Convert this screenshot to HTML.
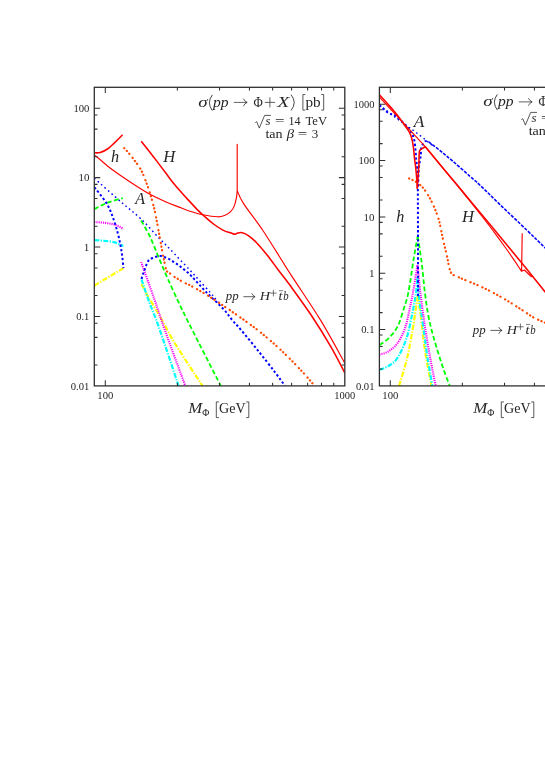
<!DOCTYPE html>
<html><head><meta charset="utf-8"><title>Higgs cross sections</title>
<style>
html,body{margin:0;padding:0;background:#fff;}
body{width:545px;height:770px;overflow:hidden;font-family:"Liberation Serif",serif;}
svg{display:block;will-change:transform;}
svg text{font-family:"Liberation Serif",serif;fill:#262626;}
</style></head><body>
<svg width="545" height="770" viewBox="0 0 545 770">
<rect width="545" height="770" fill="#fff"/>
<defs>
<clipPath id="cl"><rect x="94.3" y="87.3" width="250.5" height="298.6"/></clipPath>
<clipPath id="cr"><rect x="379.4" y="87.3" width="170" height="298.6"/></clipPath>
</defs>
<g clip-path="url(#cl)" stroke-linecap="butt" stroke-linejoin="round">
<path d="M94.30,285.60 L123.40,268.20" fill="none" stroke="#ffff00" stroke-width="2.2" stroke-dasharray="5.3 1.5 1.3 1.5" />
<path d="M141.50,284.10 C142.02,285.08 143.18,287.35 144.60,290.00 C146.02,292.65 147.93,296.50 150.00,300.00 C152.07,303.50 154.83,307.33 157.00,311.00 C159.17,314.67 159.85,316.33 163.00,322.00 C166.15,327.67 169.32,334.35 175.90,345.00 C182.48,355.65 198.07,379.08 202.50,385.90" fill="none" stroke="#ffff00" stroke-width="2.2" stroke-dasharray="5.3 1.5 1.3 1.5" />
<path d="M94.30,240.10 C95.98,240.22 100.98,240.42 104.40,240.80 C107.82,241.18 111.63,241.53 114.80,242.40 C117.97,243.27 121.97,245.40 123.40,246.00" fill="none" stroke="#00ffff" stroke-width="2.2" stroke-dasharray="5 1.4 1.2 1.4" />
<path d="M141.50,279.50 C142.87,283.48 146.80,295.45 149.70,303.40 C152.60,311.35 154.08,313.45 158.90,327.20 C163.72,340.95 175.32,376.12 178.60,385.90" fill="none" stroke="#00ffff" stroke-width="2.2" stroke-dasharray="5 1.4 1.2 1.4" />
<path d="M94.30,222.00 C95.98,222.13 100.98,222.35 104.40,222.80 C107.82,223.25 111.63,223.72 114.80,224.70 C117.97,225.68 121.97,228.03 123.40,228.70" fill="none" stroke="#ff00ff" stroke-width="2.1" stroke-dasharray="1.15 1.0" />
<path d="M141.10,262.00 C143.25,268.03 150.02,286.78 154.00,298.20 C157.98,309.62 159.78,315.88 165.00,330.50 C170.22,345.12 181.92,376.67 185.30,385.90" fill="none" stroke="#ff00ff" stroke-width="2.1" stroke-dasharray="1.15 1.0" />
<path d="M94.30,209.10 C96.50,208.03 102.75,204.53 107.50,202.70 C112.25,200.87 120.25,198.87 122.80,198.10" fill="none" stroke="#00ff00" stroke-width="1.8" stroke-dasharray="4.7 2.5" />
<path d="M141.10,220.50 C142.53,223.08 146.73,229.75 149.70,236.00 C152.67,242.25 155.83,250.75 158.90,258.00 C161.97,265.25 164.58,271.63 168.10,279.50 C171.62,287.37 176.25,297.33 180.00,305.20 C183.75,313.07 183.80,313.25 190.60,326.70 C197.40,340.15 215.77,376.03 220.80,385.90" fill="none" stroke="#00ff00" stroke-width="1.8" stroke-dasharray="4.7 2.5" />
<path d="M94.30,187.40 C94.97,188.17 96.10,189.08 98.30,192.00 C100.50,194.92 105.05,200.62 107.50,204.90 C109.95,209.18 111.32,213.12 113.00,217.70 C114.68,222.28 116.37,227.85 117.60,232.40 C118.83,236.95 119.63,241.07 120.40,245.00 C121.17,248.93 121.70,252.13 122.20,256.00 C122.70,259.87 123.20,266.17 123.40,268.20" fill="none" stroke="#0000ff" stroke-width="2.0" stroke-dasharray="2.3 2.25" />
<path d="M141.60,279.00 C141.73,278.33 142.07,276.07 142.40,275.00 C142.73,273.93 143.18,273.63 143.60,272.60 C144.02,271.57 144.40,270.17 144.90,268.80 C145.40,267.43 145.95,265.82 146.60,264.40 C147.25,262.98 147.80,261.37 148.80,260.30 C149.80,259.23 151.23,258.65 152.60,258.00 C153.97,257.35 155.58,256.72 157.00,256.40 C158.42,256.08 159.72,255.93 161.10,256.10 C162.48,256.27 163.87,256.85 165.30,257.40 C166.73,257.95 168.33,258.67 169.70,259.40 C171.07,260.13 172.22,260.97 173.50,261.80 C174.78,262.63 176.20,263.55 177.40,264.40 C178.60,265.25 179.52,265.98 180.70,266.90 C181.88,267.82 183.32,268.95 184.50,269.90 C185.68,270.85 186.68,271.60 187.80,272.60 C188.92,273.60 190.08,274.77 191.20,275.90 C192.32,277.03 191.92,276.62 194.50,279.40 C197.08,282.18 201.92,287.70 206.70,292.60 C211.48,297.50 218.92,304.18 223.20,308.80 C227.48,313.42 229.52,316.88 232.40,320.30 C235.28,323.72 236.20,324.22 240.50,329.30 C244.80,334.38 252.45,343.63 258.20,350.80 C263.95,357.97 270.53,366.45 275.00,372.30 C279.47,378.15 283.33,383.63 285.00,385.90" fill="none" stroke="#0000ff" stroke-width="2.0" stroke-dasharray="2.3 2.25" />
<path d="M94.30,178.30 C98.95,182.42 114.48,196.28 122.20,203.00 C129.92,209.72 134.48,212.78 140.60,218.60 C146.72,224.42 154.00,232.80 158.90,237.90 C163.80,243.00 164.92,243.92 170.00,249.20 C175.08,254.48 184.52,264.38 189.40,269.60 C194.28,274.82 195.82,276.67 199.30,280.50 C202.78,284.33 207.68,289.65 210.30,292.60 C212.92,295.55 213.63,296.53 215.00,298.20 C216.37,299.87 217.92,301.87 218.50,302.60" fill="none" stroke="#0000ff" stroke-width="1.45" stroke-dasharray="1.6 3.0" />
<path d="M124.20,148.10 C125.07,149.07 127.57,151.70 129.40,153.90 C131.23,156.10 133.25,158.60 135.20,161.30 C137.15,164.00 139.38,166.92 141.10,170.10 C142.82,173.28 144.03,176.62 145.50,180.40 C146.97,184.18 148.68,189.02 149.90,192.80 C151.12,196.58 151.95,199.92 152.80,203.10 C153.65,206.28 153.98,207.02 155.00,211.90 C156.02,216.78 157.78,226.33 158.90,232.40 C160.02,238.47 160.88,243.88 161.70,248.30 C162.52,252.72 163.33,256.53 163.80,258.90 C164.27,261.27 164.20,261.03 164.50,262.50 C164.80,263.97 165.20,266.23 165.60,267.70 C166.00,269.17 166.22,270.38 166.90,271.30 C167.58,272.22 168.55,272.33 169.70,273.20 C170.85,274.07 172.57,275.65 173.80,276.50 C175.03,277.35 176.05,277.67 177.10,278.30 C178.15,278.93 178.77,279.50 180.10,280.30 C181.43,281.10 183.72,282.40 185.10,283.10 C186.48,283.80 187.30,283.98 188.40,284.50 C189.50,285.02 188.65,284.48 191.70,286.20 C194.75,287.92 201.15,291.37 206.70,294.80 C212.25,298.23 218.88,302.67 225.00,306.80 C231.12,310.93 237.53,315.40 243.40,319.60 C249.27,323.80 254.03,327.00 260.20,332.00 C266.37,337.00 273.68,343.30 280.40,349.60 C287.12,355.90 294.78,363.75 300.50,369.80 C306.22,375.85 312.33,383.22 314.70,385.90" fill="none" stroke="#ff4800" stroke-width="2.15" stroke-dasharray="0.3 3.4 0.3 3.4 0.3 5.2" stroke-linecap="round" />
<path d="M94.30,155.00 C95.25,155.75 97.58,157.50 100.00,159.50 C102.42,161.50 105.13,164.17 108.80,167.00 C112.47,169.83 117.35,173.30 122.00,176.50 C126.65,179.70 132.05,183.23 136.70,186.20 C141.35,189.17 145.00,191.67 149.90,194.30 C154.80,196.93 161.08,199.82 166.10,202.00 C171.12,204.18 176.30,205.95 180.00,207.40 C183.70,208.85 184.47,209.47 188.30,210.70 C192.13,211.93 198.10,213.78 203.00,214.80 C207.90,215.82 214.03,216.72 217.70,216.80 C221.37,216.88 222.85,216.15 225.00,215.30 C227.15,214.45 229.07,213.23 230.60,211.70 C232.13,210.17 233.23,208.40 234.20,206.10 C235.17,203.80 235.90,200.48 236.40,197.90 C236.90,195.32 237.07,191.82 237.20,190.60 L237.2,144.3 L237.2,190.6  C238.23,192.73 239.03,196.63 243.40,203.40 C247.77,210.17 255.63,219.53 263.40,231.20 C271.17,242.87 280.45,258.53 290.00,273.40 C299.55,288.27 311.57,305.45 320.70,320.40 C329.83,335.35 340.78,355.98 344.80,363.10" fill="none" stroke="#ff0000" stroke-width="1.15" />
<path d="M94.30,152.80 C95.28,152.75 98.00,153.13 100.20,152.50 C102.40,151.87 105.05,150.68 107.50,149.00 C109.95,147.32 112.38,144.78 114.90,142.40 C117.42,140.02 121.32,135.98 122.60,134.70" fill="none" stroke="#ff0000" stroke-width="1.55" />
<path d="M141.20,141.20 C142.62,142.98 147.07,148.53 149.70,151.90 C152.33,155.27 154.45,158.05 157.00,161.40 C159.55,164.75 162.45,168.60 165.00,172.00 C167.55,175.40 169.85,178.70 172.30,181.80 C174.75,184.90 177.25,187.80 179.70,190.60 C182.15,193.40 184.07,195.43 187.00,198.60 C189.93,201.77 194.53,206.77 197.30,209.60 C200.07,212.43 200.90,213.20 203.60,215.60 C206.30,218.00 210.20,221.53 213.50,224.00 C216.80,226.47 220.58,228.95 223.40,230.40 C226.22,231.85 228.47,232.05 230.40,232.70 C232.33,233.35 233.78,234.25 235.00,234.30 C236.22,234.35 236.48,233.27 237.70,233.00 C238.92,232.73 240.47,232.23 242.30,232.70 C244.13,233.17 246.40,234.22 248.70,235.80 C251.00,237.38 253.03,239.00 256.10,242.20 C259.17,245.40 263.43,250.42 267.10,255.00 C270.77,259.58 274.28,264.65 278.10,269.70 C281.92,274.75 284.58,277.87 290.00,285.30 C295.42,292.73 303.80,304.08 310.60,314.30 C317.40,324.52 325.10,336.85 330.80,346.60 C336.50,356.35 342.47,368.43 344.80,372.80" fill="none" stroke="#ff0000" stroke-width="1.55" />
</g>
<g clip-path="url(#cr)" stroke-linecap="butt" stroke-linejoin="round">
<path d="M399.00,385.90 C400.28,381.53 404.50,368.65 406.70,359.70 C408.90,350.75 410.67,340.77 412.20,332.20 C413.73,323.63 414.97,314.32 415.90,308.30 C416.83,302.28 417.48,298.13 417.80,296.10" fill="none" stroke="#ffff00" stroke-width="2.2" stroke-dasharray="5.3 1.5 1.3 1.5" />
<path d="M417.80,296.10 C418.25,299.07 419.30,304.82 420.50,313.90 C421.70,322.98 423.17,338.60 425.00,350.60 C426.83,362.60 430.42,380.02 431.50,385.90" fill="none" stroke="#ffff00" stroke-width="2.2" stroke-dasharray="5.3 1.5 1.3 1.5" />
<path d="M379.40,369.80 C380.88,369.18 385.28,368.08 388.30,366.10 C391.32,364.12 394.43,362.63 397.50,357.90 C400.57,353.17 404.25,345.03 406.70,337.70 C409.15,330.37 410.67,321.23 412.20,313.90 C413.73,306.57 415.02,299.87 415.90,293.70 C416.78,287.53 417.23,279.70 417.50,276.90" fill="none" stroke="#00ffff" stroke-width="2.2" stroke-dasharray="5 1.4 1.2 1.4" />
<path d="M417.50,276.90 C417.83,280.92 418.55,292.70 419.50,301.00 C420.45,309.30 421.82,316.92 423.20,326.70 C424.58,336.48 426.27,349.83 427.80,359.70 C429.33,369.57 431.63,381.53 432.40,385.90" fill="none" stroke="#00ffff" stroke-width="2.2" stroke-dasharray="5 1.4 1.2 1.4" />
<path d="M379.40,354.60 C380.88,354.08 385.28,353.40 388.30,351.50 C391.32,349.60 394.73,347.03 397.50,343.20 C400.27,339.37 402.92,334.00 404.90,328.50 C406.88,323.00 408.03,316.32 409.40,310.20 C410.77,304.08 411.75,299.33 413.10,291.80 C414.45,284.27 416.77,269.47 417.50,265.00" fill="none" stroke="#ff00ff" stroke-width="2.1" stroke-dasharray="1.15 1.0" />
<path d="M417.50,265.00 C418.00,269.78 419.25,283.42 420.50,293.70 C421.75,303.98 423.33,315.70 425.00,326.70 C426.67,337.70 428.72,349.83 430.50,359.70 C432.28,369.57 434.83,381.53 435.70,385.90" fill="none" stroke="#ff00ff" stroke-width="2.1" stroke-dasharray="1.15 1.0" />
<path d="M379.40,345.00 C380.88,343.93 385.28,341.65 388.30,338.60 C391.32,335.55 394.90,331.75 397.50,326.70 C400.10,321.65 402.07,314.12 403.90,308.30 C405.73,302.48 406.82,300.40 408.50,291.80 C410.18,283.20 412.47,265.92 414.00,256.70 C415.53,247.48 417.08,239.87 417.70,236.50" fill="none" stroke="#00ff00" stroke-width="1.8" stroke-dasharray="4.7 2.5" />
<path d="M417.70,236.50 C418.32,240.48 420.18,250.92 421.40,260.40 C422.62,269.88 423.78,283.88 425.00,293.40 C426.22,302.92 427.17,309.82 428.70,317.50 C430.23,325.18 431.75,330.93 434.20,339.50 C436.65,348.07 440.80,361.17 443.40,368.90 C446.00,376.63 448.73,383.07 449.80,385.90" fill="none" stroke="#00ff00" stroke-width="1.8" stroke-dasharray="4.7 2.5" />
<path d="M379.40,105.10 C380.88,106.42 385.70,111.27 388.30,113.00 C390.90,114.73 392.20,113.55 395.00,115.50 C397.80,117.45 402.35,121.80 405.10,124.70 C407.85,127.60 409.97,130.30 411.50,132.90 C413.03,135.50 413.62,137.23 414.30,140.30 C414.98,143.37 415.28,148.02 415.60,151.30 C415.92,154.58 415.93,157.22 416.20,160.00 C416.47,162.78 416.93,163.83 417.20,168.00 C417.47,172.17 417.67,171.33 417.80,185.00 C417.93,198.67 417.97,231.33 418.00,250.00 C418.03,268.67 418.00,289.17 418.00,297.00" fill="none" stroke="#0000ff" stroke-width="2.0" stroke-dasharray="2.3 2.25" />
<path d="M418.10,186.00 C418.22,183.00 418.47,172.33 418.80,168.00 C419.13,163.67 419.77,162.33 420.10,160.00 C420.43,157.67 420.62,155.92 420.80,154.00 C420.98,152.08 420.92,150.02 421.20,148.50 C421.48,146.98 421.82,146.12 422.50,144.90 C423.18,143.68 424.27,141.62 425.30,141.20 C426.33,140.78 428.13,142.20 428.70,142.40" fill="none" stroke="#0000ff" stroke-width="2.0" stroke-dasharray="2.3 2.25" />
<path d="M379.40,105.10 C383.33,108.10 396.92,118.57 403.00,123.10 C409.08,127.63 411.62,129.08 415.90,132.30 C420.18,135.52 426.02,140.25 428.70,142.40 C431.38,144.55 431.45,144.73 432.00,145.20" fill="none" stroke="#0000ff" stroke-width="1.45" stroke-dasharray="1.6 3.0" />
<path d="M428.70,141.80 C430.58,143.27 435.95,147.33 440.00,150.60 C444.05,153.87 448.00,157.12 453.00,161.40 C458.00,165.68 465.50,172.33 470.00,176.30 C474.50,180.27 475.00,180.48 480.00,185.20 C485.00,189.92 492.22,197.13 500.00,204.60 C507.78,212.07 519.20,222.80 526.70,230.00 C534.20,237.20 539.45,242.38 545.00,247.80 C550.55,253.22 557.50,260.05 560.00,262.50" fill="none" stroke="#0000ff" stroke-width="1.55" stroke-dasharray="3.3 1.3" />
<path d="M409.10,178.40 C410.53,179.17 415.05,181.00 417.70,183.00 C420.35,185.00 422.55,187.03 425.00,190.40 C427.45,193.77 430.10,198.32 432.40,203.20 C434.70,208.08 437.12,214.07 438.80,219.70 C440.48,225.33 441.12,230.83 442.50,237.00 C443.88,243.17 445.70,250.78 447.10,256.70 C448.50,262.62 449.07,269.13 450.90,272.50 C452.73,275.87 456.03,275.77 458.10,276.90 C460.17,278.03 459.37,277.62 463.30,279.30 C467.23,280.98 475.58,284.15 481.70,287.00 C487.82,289.85 493.88,292.97 500.00,296.40 C506.12,299.83 512.88,304.13 518.40,307.60 C523.92,311.07 528.67,314.68 533.10,317.20 C537.53,319.72 540.52,320.73 545.00,322.70 C549.48,324.67 557.50,327.95 560.00,329.00" fill="none" stroke="#ff4800" stroke-width="2.15" stroke-dasharray="0.3 3.4 0.3 3.4 0.3 5.2" stroke-linecap="round" />
<path d="M379.40,97.20 L425.30,146.70 M425.30,146.70 C428.58,150.68 439.55,164.00 445.00,170.60 C450.45,177.20 453.83,181.20 458.00,186.30 C462.17,191.40 466.05,196.25 470.00,201.20 C473.95,206.15 477.53,210.65 481.70,216.00 C485.87,221.35 491.12,228.13 495.00,233.30 C498.88,238.47 501.95,242.73 505.00,247.00 C508.05,251.27 510.83,255.30 513.30,258.90 C515.77,262.50 518.42,266.53 519.80,268.60 C521.18,270.67 521.30,270.85 521.60,271.30 L522.2,233.7 L521.6,271.3 L524.4,270.0 L531.7,277.0" fill="none" stroke="#ff0000" stroke-width="1.15" />
<path d="M379.40,94.70 C380.83,96.30 385.40,101.37 388.00,104.30 C390.60,107.23 393.00,109.92 395.00,112.30 C397.00,114.68 398.47,116.53 400.00,118.60 C401.53,120.67 402.73,122.62 404.20,124.70 C405.67,126.78 407.58,128.97 408.80,131.10 C410.02,133.23 410.75,134.90 411.50,137.50 C412.25,140.10 412.77,142.95 413.30,146.70 C413.83,150.45 414.28,156.40 414.70,160.00 C415.12,163.60 415.43,164.80 415.80,168.30 C416.17,171.80 416.65,177.62 416.90,181.00 C417.15,184.38 417.23,187.33 417.30,188.60" fill="none" stroke="#ff0000" stroke-width="1.55" />
<path d="M417.30,188.60 C417.38,187.33 417.57,184.38 417.80,181.00 C418.03,177.62 418.50,171.80 418.70,168.30 C418.90,164.80 418.87,162.88 419.00,160.00 C419.13,157.12 418.92,152.92 419.50,151.00 C420.08,149.08 421.53,149.22 422.50,148.50 C423.47,147.78 424.83,147.00 425.30,146.70" fill="none" stroke="#ff0000" stroke-width="1.55" />
<path d="M425.30,146.70 C428.58,150.68 437.55,161.65 445.00,170.60 C452.45,179.55 461.67,190.40 470.00,200.40 C478.33,210.40 486.40,220.20 495.00,230.60 C503.60,241.00 513.27,252.60 521.60,262.80 C529.93,273.00 538.60,283.77 545.00,291.80 C551.40,299.83 557.50,307.80 560.00,311.00" fill="none" stroke="#ff0000" stroke-width="1.55" />
</g>
<rect x="94.30" y="87.30" width="250.50" height="298.60" fill="none" stroke="#303030" stroke-width="1.3"/>
<path d="M105.30,385.90 v-5.60 M105.30,87.30 v5.60 M177.37,385.90 v-3.10 M177.37,87.30 v3.10 M219.52,385.90 v-3.10 M219.52,87.30 v3.10 M249.43,385.90 v-3.10 M249.43,87.30 v3.10 M272.63,385.90 v-3.10 M272.63,87.30 v3.10 M291.59,385.90 v-3.10 M291.59,87.30 v3.10 M307.62,385.90 v-3.10 M307.62,87.30 v3.10 M321.50,385.90 v-3.10 M321.50,87.30 v3.10 M333.75,385.90 v-3.10 M333.75,87.30 v3.10 M94.30,365.00 h3.20 M344.80,365.00 h-3.20 M94.30,337.37 h3.20 M344.80,337.37 h-3.20 M94.30,323.20 h3.20 M344.80,323.20 h-3.20 M94.30,316.47 h5.90 M344.80,316.47 h-5.90 M94.30,295.58 h3.20 M344.80,295.58 h-3.20 M94.30,267.95 h3.20 M344.80,267.95 h-3.20 M94.30,253.78 h3.20 M344.80,253.78 h-3.20 M94.30,247.05 h5.90 M344.80,247.05 h-5.90 M94.30,226.15 h3.20 M344.80,226.15 h-3.20 M94.30,198.52 h3.20 M344.80,198.52 h-3.20 M94.30,184.35 h3.20 M344.80,184.35 h-3.20 M94.30,177.62 h5.90 M344.80,177.62 h-5.90 M94.30,156.73 h3.20 M344.80,156.73 h-3.20 M94.30,129.10 h3.20 M344.80,129.10 h-3.20 M94.30,114.93 h3.20 M344.80,114.93 h-3.20 M94.30,108.20 h5.90 M344.80,108.20 h-5.90" fill="none" stroke="#303030" stroke-width="1.05"/>
<rect x="379.40" y="87.30" width="180.60" height="298.60" fill="none" stroke="#303030" stroke-width="1.3"/>
<path d="M390.30,385.90 v-5.60 M390.30,87.30 v5.60 M462.37,385.90 v-3.10 M462.37,87.30 v3.10 M504.52,385.90 v-3.10 M504.52,87.30 v3.10 M534.43,385.90 v-3.10 M534.43,87.30 v3.10 M379.40,368.94 h3.20 M379.40,346.53 h3.20 M379.40,335.03 h3.20 M379.40,329.57 h5.90 M379.40,312.61 h3.20 M379.40,290.20 h3.20 M379.40,278.70 h3.20 M379.40,273.24 h5.90 M379.40,256.29 h3.20 M379.40,233.87 h3.20 M379.40,222.37 h3.20 M379.40,216.91 h5.90 M379.40,199.96 h3.20 M379.40,177.54 h3.20 M379.40,166.04 h3.20 M379.40,160.59 h5.90 M379.40,143.63 h3.20 M379.40,121.21 h3.20 M379.40,109.72 h3.20 M379.40,104.26 h5.90" fill="none" stroke="#303030" stroke-width="1.05"/>
<g id="labels">
<text x="73.40" y="111.95" font-size="11.2" text-anchor="start" textLength="16.00" lengthAdjust="spacingAndGlyphs" >100</text>
<text x="78.50" y="181.37" font-size="11.2" text-anchor="start" textLength="10.90" lengthAdjust="spacingAndGlyphs" >10</text>
<text x="83.80" y="250.80" font-size="11.2" text-anchor="start" textLength="5.60" lengthAdjust="spacingAndGlyphs" >1</text>
<text x="76.20" y="320.22" font-size="11.2" text-anchor="start" textLength="13.20" lengthAdjust="spacingAndGlyphs" >0.1</text>
<text x="70.80" y="389.65" font-size="11.2" text-anchor="start" textLength="18.60" lengthAdjust="spacingAndGlyphs" >0.01</text>
<text x="353.50" y="108.01" font-size="11.2" text-anchor="start" textLength="21.00" lengthAdjust="spacingAndGlyphs" >1000</text>
<text x="358.50" y="164.34" font-size="11.2" text-anchor="start" textLength="16.00" lengthAdjust="spacingAndGlyphs" >100</text>
<text x="363.60" y="220.66" font-size="11.2" text-anchor="start" textLength="10.90" lengthAdjust="spacingAndGlyphs" >10</text>
<text x="368.90" y="276.99" font-size="11.2" text-anchor="start" textLength="5.60" lengthAdjust="spacingAndGlyphs" >1</text>
<text x="361.30" y="333.32" font-size="11.2" text-anchor="start" textLength="13.20" lengthAdjust="spacingAndGlyphs" >0.1</text>
<text x="355.90" y="389.65" font-size="11.2" text-anchor="start" textLength="18.60" lengthAdjust="spacingAndGlyphs" >0.01</text>
<text x="97.30" y="399.30" font-size="11.2" text-anchor="start" textLength="16.00" lengthAdjust="spacingAndGlyphs" >100</text>
<text x="334.30" y="399.30" font-size="11.2" text-anchor="start" textLength="21.00" lengthAdjust="spacingAndGlyphs" >1000</text>
<text x="382.30" y="399.30" font-size="11.2" text-anchor="start" textLength="16.00" lengthAdjust="spacingAndGlyphs" >100</text>
<text x="198.20" y="106.50" font-size="15" font-style="italic" text-anchor="start" textLength="9.40" lengthAdjust="spacingAndGlyphs" >σ</text>
<path d="M212.30,94.90 Q206.50,102.75 212.30,110.60" fill="none" stroke="#2c2c2c" stroke-width="0.9"/>
<text x="213.00" y="106.50" font-size="15" font-style="italic" text-anchor="start" textLength="15.60" lengthAdjust="spacingAndGlyphs" >pp</text>
<path d="M233.80,102.40 H247.00 M243.40,98.60 Q244.60,101.50 247.20,102.40 Q244.60,103.30 243.40,106.20" fill="none" stroke="#2c2c2c" stroke-width="0.75"/>
<text x="253.40" y="106.50" font-size="15" text-anchor="start" textLength="9.30" lengthAdjust="spacingAndGlyphs" >Φ</text>
<path d="M264.80,102.40 h10.20 M269.90,97.30 v10.20" fill="none" stroke="#2c2c2c" stroke-width="0.75"/>
<text x="277.20" y="106.50" font-size="15" font-style="italic" text-anchor="start" textLength="12.10" lengthAdjust="spacingAndGlyphs" >X</text>
<path d="M291.10,94.70 Q297.30,102.55 291.10,110.40" fill="none" stroke="#2c2c2c" stroke-width="0.9"/>
<path d="M305.30,94.50 H302.90 V110.10 H305.30" fill="none" stroke="#2c2c2c" stroke-width="0.8"/>
<text x="305.40" y="106.50" font-size="15" text-anchor="start" textLength="15.20" lengthAdjust="spacingAndGlyphs" >pb</text>
<path d="M321.30,94.50 H323.70 V110.10 H321.30" fill="none" stroke="#2c2c2c" stroke-width="0.8"/>
<text x="483.20" y="106.00" font-size="15" font-style="italic" text-anchor="start" textLength="9.40" lengthAdjust="spacingAndGlyphs" >σ</text>
<path d="M497.30,94.40 Q491.50,102.25 497.30,110.10" fill="none" stroke="#2c2c2c" stroke-width="0.9"/>
<text x="498.00" y="106.00" font-size="15" font-style="italic" text-anchor="start" textLength="15.60" lengthAdjust="spacingAndGlyphs" >pp</text>
<path d="M518.80,101.90 H532.00 M528.40,98.10 Q529.60,101.00 532.20,101.90 Q529.60,102.80 528.40,105.70" fill="none" stroke="#2c2c2c" stroke-width="0.75"/>
<text x="538.40" y="106.00" font-size="15" text-anchor="start" textLength="9.30" lengthAdjust="spacingAndGlyphs" >Φ</text>
<path d="M549.80,101.90 h10.20 M554.90,96.80 v10.20" fill="none" stroke="#2c2c2c" stroke-width="0.75"/>
<text x="562.20" y="106.00" font-size="15" font-style="italic" text-anchor="start" textLength="12.10" lengthAdjust="spacingAndGlyphs" >X</text>
<path d="M576.10,94.20 Q582.30,102.05 576.10,109.90" fill="none" stroke="#2c2c2c" stroke-width="0.9"/>
<path d="M590.30,94.00 H587.90 V109.60 H590.30" fill="none" stroke="#2c2c2c" stroke-width="0.8"/>
<text x="590.40" y="106.00" font-size="15" text-anchor="start" textLength="15.20" lengthAdjust="spacingAndGlyphs" >pb</text>
<path d="M606.30,94.00 H608.70 V109.60 H606.30" fill="none" stroke="#2c2c2c" stroke-width="0.8"/>
<path d="M255.30,122.60 l1.4,-0.9 l2.6,6.4 L264.60,115.40 H270.90" fill="none" stroke="#2c2c2c" stroke-width="0.8"/>
<text x="265.50" y="125.40" font-size="13" font-style="italic" text-anchor="start" textLength="5.00" lengthAdjust="spacingAndGlyphs" >s</text>
<text x="275.00" y="125.40" font-size="13" text-anchor="start" textLength="9.50" lengthAdjust="spacingAndGlyphs" >=</text>
<text x="288.50" y="125.40" font-size="13" text-anchor="start" textLength="12.10" lengthAdjust="spacingAndGlyphs" >14</text>
<text x="305.50" y="125.40" font-size="13" text-anchor="start" textLength="21.60" lengthAdjust="spacingAndGlyphs" >TeV</text>
<path d="M521.40,119.60 l1.4,-0.9 l2.6,6.4 L530.70,112.40 H537.00" fill="none" stroke="#2c2c2c" stroke-width="0.8"/>
<text x="531.60" y="122.40" font-size="13" font-style="italic" text-anchor="start" textLength="5.00" lengthAdjust="spacingAndGlyphs" >s</text>
<text x="541.10" y="122.40" font-size="13" text-anchor="start" textLength="9.50" lengthAdjust="spacingAndGlyphs" >=</text>
<text x="554.60" y="122.40" font-size="13" text-anchor="start" textLength="12.10" lengthAdjust="spacingAndGlyphs" >14</text>
<text x="571.60" y="122.40" font-size="13" text-anchor="start" textLength="21.60" lengthAdjust="spacingAndGlyphs" >TeV</text>
<text x="265.40" y="137.90" font-size="13" text-anchor="start" textLength="17.20" lengthAdjust="spacingAndGlyphs" >tan</text>
<text x="286.70" y="137.90" font-size="13" font-style="italic" text-anchor="start" textLength="7.30" lengthAdjust="spacingAndGlyphs" >β</text>
<text x="297.70" y="137.90" font-size="13" text-anchor="start" textLength="9.50" lengthAdjust="spacingAndGlyphs" >=</text>
<text x="311.70" y="137.90" font-size="13" text-anchor="start" >3</text>
<text x="528.70" y="134.60" font-size="13" text-anchor="start" textLength="17.20" lengthAdjust="spacingAndGlyphs" >tan</text>
<text x="550.00" y="134.60" font-size="13" font-style="italic" text-anchor="start" textLength="7.30" lengthAdjust="spacingAndGlyphs" >β</text>
<text x="561.00" y="134.60" font-size="13" text-anchor="start" textLength="9.50" lengthAdjust="spacingAndGlyphs" >=</text>
<text x="575.00" y="134.60" font-size="13" text-anchor="start" >30</text>
<text x="111.00" y="161.70" font-size="16" font-style="italic" text-anchor="start" textLength="8.10" lengthAdjust="spacingAndGlyphs" >h</text>
<text x="163.30" y="161.70" font-size="16" font-style="italic" text-anchor="start" textLength="12.00" lengthAdjust="spacingAndGlyphs" >H</text>
<text x="135.20" y="204.10" font-size="16" font-style="italic" text-anchor="start" textLength="9.80" lengthAdjust="spacingAndGlyphs" >A</text>
<text x="413.80" y="127.00" font-size="16" font-style="italic" text-anchor="start" textLength="10.60" lengthAdjust="spacingAndGlyphs" >A</text>
<text x="396.20" y="222.00" font-size="16" font-style="italic" text-anchor="start" textLength="8.10" lengthAdjust="spacingAndGlyphs" >h</text>
<text x="462.10" y="221.90" font-size="16" font-style="italic" text-anchor="start" textLength="12.00" lengthAdjust="spacingAndGlyphs" >H</text>
<text x="225.80" y="300.30" font-size="13.2" font-style="italic" text-anchor="start" textLength="12.90" lengthAdjust="spacingAndGlyphs" >pp</text>
<path d="M243.40,296.70 H254.90 M251.76,293.36 Q252.81,295.91 255.10,296.70 Q252.81,297.49 251.76,300.04" fill="none" stroke="#2c2c2c" stroke-width="0.75"/>
<text x="259.80" y="300.30" font-size="13.2" font-style="italic" text-anchor="start" textLength="10.30" lengthAdjust="spacingAndGlyphs" >H</text>
<path d="M270.10,293.10 h6.60 M273.40,289.80 v6.60" fill="none" stroke="#2c2c2c" stroke-width="0.65"/>
<text x="278.50" y="300.30" font-size="13.2" font-style="italic" text-anchor="start" textLength="3.90" lengthAdjust="spacingAndGlyphs" >t</text>
<path d="M279.00,290.70 h4.2" stroke="#222" stroke-width="0.6"/>
<text x="283.20" y="300.30" font-size="13.2" font-style="italic" text-anchor="start" textLength="5.40" lengthAdjust="spacingAndGlyphs" >b</text>
<text x="472.80" y="334.00" font-size="13.2" font-style="italic" text-anchor="start" textLength="12.90" lengthAdjust="spacingAndGlyphs" >pp</text>
<path d="M490.40,330.40 H501.90 M498.76,327.06 Q499.81,329.61 502.10,330.40 Q499.81,331.19 498.76,333.74" fill="none" stroke="#2c2c2c" stroke-width="0.75"/>
<text x="506.80" y="334.00" font-size="13.2" font-style="italic" text-anchor="start" textLength="10.30" lengthAdjust="spacingAndGlyphs" >H</text>
<path d="M517.10,326.80 h6.60 M520.40,323.50 v6.60" fill="none" stroke="#2c2c2c" stroke-width="0.65"/>
<text x="525.50" y="334.00" font-size="13.2" font-style="italic" text-anchor="start" textLength="3.90" lengthAdjust="spacingAndGlyphs" >t</text>
<path d="M526.00,324.40 h4.2" stroke="#222" stroke-width="0.6"/>
<text x="530.20" y="334.00" font-size="13.2" font-style="italic" text-anchor="start" textLength="5.40" lengthAdjust="spacingAndGlyphs" >b</text>
<text x="188.20" y="413.30" font-size="15.6" font-style="italic" text-anchor="start" textLength="14.00" lengthAdjust="spacingAndGlyphs" >M</text>
<text x="202.30" y="415.70" font-size="10.6" text-anchor="start" textLength="7.10" lengthAdjust="spacingAndGlyphs" >Φ</text>
<path d="M218.90,401.90 H216.30 V417.60 H218.90" fill="none" stroke="#2c2c2c" stroke-width="0.8"/>
<text x="219.10" y="413.30" font-size="15.6" text-anchor="start" textLength="26.60" lengthAdjust="spacingAndGlyphs" >GeV</text>
<path d="M246.20,401.90 H248.80 V417.60 H246.20" fill="none" stroke="#2c2c2c" stroke-width="0.8"/>
<text x="473.20" y="413.30" font-size="15.6" font-style="italic" text-anchor="start" textLength="14.00" lengthAdjust="spacingAndGlyphs" >M</text>
<text x="487.30" y="415.70" font-size="10.6" text-anchor="start" textLength="7.10" lengthAdjust="spacingAndGlyphs" >Φ</text>
<path d="M503.90,401.90 H501.30 V417.60 H503.90" fill="none" stroke="#2c2c2c" stroke-width="0.8"/>
<text x="504.10" y="413.30" font-size="15.6" text-anchor="start" textLength="26.60" lengthAdjust="spacingAndGlyphs" >GeV</text>
<path d="M531.20,401.90 H533.80 V417.60 H531.20" fill="none" stroke="#2c2c2c" stroke-width="0.8"/>
</g>
</svg>
</body></html>
